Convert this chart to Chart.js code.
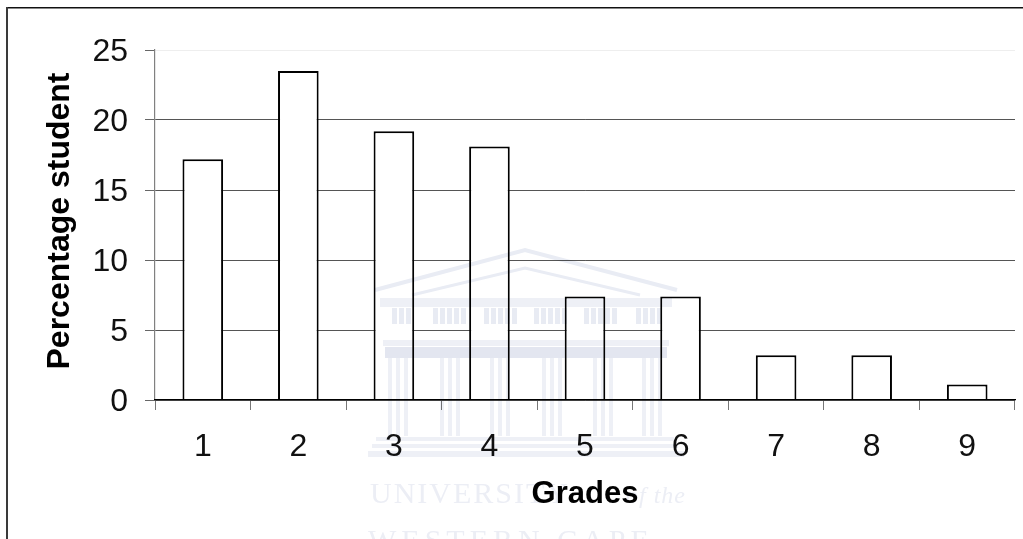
<!DOCTYPE html>
<html>
<head>
<meta charset="utf-8">
<title>Grades</title>
<script src="https://cdn.jsdelivr.net/npm/chart.js@4"></script>
<style>
  html, body { margin: 0; padding: 0; background: #fff; }
  canvas { display: block; }
</style>
</head>
<body>
<canvas id="myChart" width="1023" height="539"></canvas>
<script>
'use strict';

// Data
let grades = ['1', '2', '3', '4', '5', '6', '7', '8', '9'];
let percentages = [17.2, 23.5, 19.2, 18.1, 7.4, 7.4, 3.2, 3.2, 1.1];
let yTicks = [0, 5, 10, 15, 20, 25];

const xTitle = 'Grades';
const yTitle = 'Percentage student';
const fontFamily = '"Liberation Sans", Arial, sans-serif';

// Outline on the top and left of the page
let framePlugin = {
  id: 'frame',
  beforeDraw(chart) {
    let ctx = chart.ctx;
    ctx.save();
    ctx.fillStyle = '#fff';
    ctx.fillRect(0, 0, chart.width, chart.height);
    ctx.fillStyle = '#111';
    ctx.fillRect(6, 7, chart.width - 6, 1.5);
    ctx.fillStyle = '#3a3a3a';
    ctx.fillRect(6, 7, 2, chart.height - 7);
    ctx.restore();
  }
};

// Y title sits a little above the middle of the axis, so it is placed by hand
let yTitlePlugin = {
  id: 'yTitle',
  afterDraw(chart) {
    let ctx = chart.ctx;
    ctx.save();
    ctx.translate(60, 221);
    ctx.rotate(-Math.PI / 2);
    ctx.font = 'bold 32px ' + fontFamily;
    ctx.fillStyle = '#000';
    ctx.textAlign = 'center';
    ctx.textBaseline = 'middle';
    ctx.fillText(yTitle, 0, 0);
    ctx.restore();
  }
};

// Faint university crest printed across the page
let crestPlugin = {
  id: 'crest',
  afterDraw(chart) {
    let ctx = chart.ctx;
    ctx.save();
    ctx.globalCompositeOperation = 'multiply';
    ctx.filter = 'blur(0.7px)';

    // pediment
    ctx.strokeStyle = '#e9ecf4';
    ctx.lineWidth = 4;
    ctx.beginPath();
    ctx.moveTo(375, 290);
    ctx.lineTo(525, 250);
    ctx.lineTo(677, 290);
    ctx.stroke();
    ctx.lineWidth = 3;
    ctx.beginPath();
    ctx.moveTo(412, 295);
    ctx.lineTo(525, 268);
    ctx.lineTo(640, 295);
    ctx.stroke();

    // entablature and frieze with its openings
    ctx.fillStyle = '#eef0f6';
    ctx.fillRect(380, 298, 292, 9);
    let frieze = [[392, 21], [433, 34], [484, 31], [534, 33], [584, 33], [636, 26]];
    ctx.fillStyle = '#e8ebf3';
    for (let i = 0; i < frieze.length; i++) {
      for (let x = frieze[i][0]; x < frieze[i][0] + frieze[i][1]; x += 7) {
        ctx.fillRect(x, 308, 5, 16);
      }
    }

    // lower beam
    ctx.fillStyle = '#eef0f6';
    ctx.fillRect(383, 340, 286, 6);
    ctx.fillStyle = '#e3e6f0';
    ctx.fillRect(385, 347, 282, 11);

    // columns
    let columns = [388, 440, 490, 542, 593, 642];
    ctx.fillStyle = '#eef0f6';
    for (let i = 0; i < columns.length; i++) {
      ctx.fillRect(columns[i], 358, 4, 78);
      ctx.fillRect(columns[i] + 8, 358, 4, 78);
      ctx.fillRect(columns[i] + 16, 358, 4, 78);
    }

    // steps
    ctx.fillStyle = '#eef0f6';
    ctx.fillRect(376, 437, 298, 4);
    ctx.fillRect(372, 444, 306, 4);
    ctx.fillRect(368, 451, 316, 6);

    // name
    ctx.fillStyle = '#eceef5';
    ctx.textBaseline = 'alphabetic';
    ctx.textAlign = 'left';
    ctx.font = '30px "Liberation Serif", serif';
    ctx.letterSpacing = '2px';
    ctx.fillText('UNIVERSITY', 370, 503);
    ctx.font = 'italic 24px "Liberation Serif", serif';
    ctx.letterSpacing = '1px';
    ctx.fillText('of the', 626, 503);
    ctx.font = '30px "Liberation Serif", serif';
    ctx.letterSpacing = '5px';
    ctx.fillText('WESTERN CAPE', 368, 550);
    ctx.restore();
  }
};

let chartConfig = {
  type: 'bar',
  data: {
    labels: grades,
    datasets: [{
      data: percentages,
      backgroundColor: '#fff',
      borderColor: '#000',
      borderWidth: 2,
      borderSkipped: 'start',
      categoryPercentage: 1,
      barPercentage: 0.425
    }]
  },
  options: {
    responsive: false,
    animation: false,
    layout: { padding: { top: 50, right: 8, left: 0, bottom: 0 } },
    plugins: {
      legend: { display: false },
      tooltip: { enabled: false }
    },
    scales: {
      x: {
        afterFit(scale) { scale.height = 139; },
        title: {
          display: true,
          text: xTitle,
          color: '#000',
          font: { family: fontFamily, size: 31, weight: 'bold' },
          padding: { top: 0, bottom: 26 }
        },
        border: { color: '#000', width: 1.2, z: 1 },
        grid: {
          drawOnChartArea: false,
          drawTicks: true,
          tickLength: 10,
          tickColor: '#777',
          offset: true
        },
        ticks: {
          color: '#111',
          padding: 18,
          maxRotation: 0,
          font: { family: fontFamily, size: 32 }
        }
      },
      y: {
        min: 0,
        max: 25,
        afterFit(scale) { scale.width = 155; },
        afterBuildTicks(scale) {
          scale.ticks = yTicks.map(v => ({ value: v }));
        },
        border: { color: '#808080', width: 1.2 },
        grid: {
          // top line is barely visible, the others are dark
          color: ctx => ctx.tick && ctx.tick.value === 25 ? '#eeeeee' : '#555555',
          lineWidth: 1,
          tickLength: 10,
          tickColor: '#666'
        },
        ticks: {
          color: '#111',
          padding: 17,
          labelOffset: 2,
          font: { family: fontFamily, size: 32 }
        }
      }
    }
  },
  plugins: [framePlugin, yTitlePlugin, crestPlugin]
};

let ctx = document.getElementById('myChart').getContext('2d');
let myChart = new Chart(ctx, chartConfig); //eslint-disable-line
</script>
</body>
</html>
